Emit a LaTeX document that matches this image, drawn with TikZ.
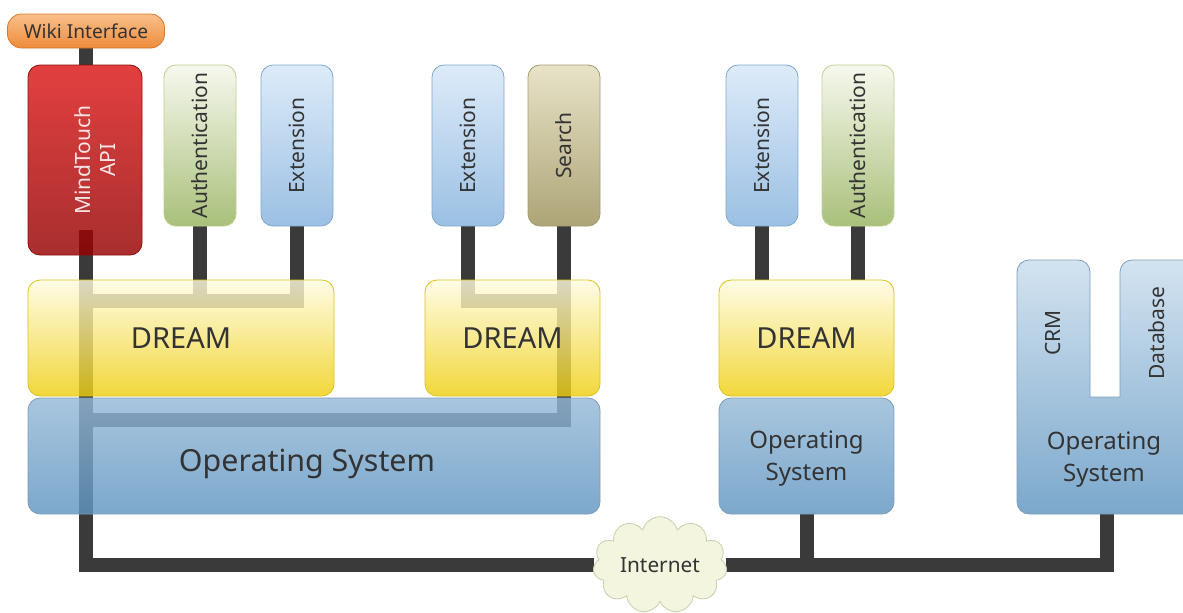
\documentclass[tikz,border=0pt]{standalone}
\usepackage{fontspec}
\setmainfont{Noto Sans}
\usetikzlibrary{shapes.symbols,backgrounds}

\definecolor{txt}{HTML}{333333}
\definecolor{wire}{HTML}{3A3A3A}
\definecolor{wikitop}{HTML}{F9C08A}
\definecolor{wikibot}{HTML}{EE8B3C}
\definecolor{wikiline}{HTML}{D9782E}
\definecolor{mttop}{HTML}{DC1515}
\definecolor{mtbot}{HTML}{960000}
\definecolor{mtline}{HTML}{900A0A}
\definecolor{authtop}{HTML}{F6F8EE}
\definecolor{authbot}{HTML}{A9C07A}
\definecolor{authline}{HTML}{BDD08E}
\definecolor{exttop}{HTML}{DDEBF9}
\definecolor{extbot}{HTML}{9BC0E3}
\definecolor{extline}{HTML}{7FA7CE}
\definecolor{srchtop}{HTML}{E8E3C8}
\definecolor{srchbot}{HTML}{ADA476}
\definecolor{srchline}{HTML}{A39B72}
\definecolor{dreamtop}{HTML}{FFFBE0}
\definecolor{dreambot}{HTML}{EECF10}
\definecolor{dreamline}{HTML}{DCC21A}
\definecolor{ostop}{HTML}{96B9D7}
\definecolor{osbot}{HTML}{5E95C1}
\definecolor{ostopo}{HTML}{A9C6DE}
\definecolor{osboto}{HTML}{7BA8CC}
\definecolor{ostopu}{HTML}{D3E3F0}
\definecolor{osline}{HTML}{7E9DBA}
\definecolor{cloudfill}{HTML}{F3F5DF}
\definecolor{cloudline}{HTML}{C9CDAD}

\tikzset{
  box/.style={rounded corners=6pt, inner sep=0pt, text=txt,
    font=\fontsize{10.5}{12.5}\selectfont},
  seethrough/.style={fill opacity=0.82, text opacity=1},
  tall/.style={box, minimum width=36pt, minimum height=80.5pt},
  extbox/.style={tall, draw=extline, top color=exttop, bottom color=extbot},
  authbox/.style={tall, draw=authline, top color=authtop, bottom color=authbot},
  srchbox/.style={tall, draw=srchline, top color=srchtop, bottom color=srchbot},
  dreambox/.style={box, seethrough, draw=dreamline, top color=dreamtop,
    bottom color=dreambot, minimum height=58pt, font=\fontsize{14.5}{17}\selectfont},
  osbox/.style={box, draw=osline, top color=ostopo, bottom color=osboto,
    minimum height=58pt, align=center, text depth=0pt,
    font=\fontsize{12}{16}\selectfont},
  wirestyle/.style={line width=7pt, draw=wire},
}

\begin{document}
\begin{tikzpicture}[x=0.5pt, y=-0.5pt]
    \useasboundingbox (0,0) rectangle (1183,612);
    \clip (0,0) rectangle (1183,612);

    % top row: plug-ins
    \node[box, draw=wikiline, top color=wikitop, bottom color=wikibot,
      rounded corners=7pt, minimum width=78.5pt, minimum height=17pt,
      font=\fontsize{9.6}{11}\selectfont] (wiki) at (86,31) {Wiki Interface};
    \node[box, seethrough, draw=mtline, top color=mttop, bottom color=mtbot,
      minimum width=57pt, minimum height=95pt] (mt) at (85,160) {};
    \node[rotate=90, align=center, text=white!90!red,
      font=\fontsize{10.5}{12.5}\selectfont] (mtlabel) at (95,160) {MindTouch\\API};
    \node[authbox] (auth1) at (200,145.5) {\rotatebox{90}{Authentication}};
    \node[extbox] (ext1) at (297,145.5) {\rotatebox{90}{Extension}};
    \node[extbox] (ext2) at (468,145.5) {\rotatebox{90}{Extension}};
    \node[srchbox] (search) at (564,145.5) {\rotatebox{90}{Search}};
    \node[extbox] (ext3) at (762,145.5) {\rotatebox{90}{Extension}};
    \node[authbox] (auth2) at (858,145.5) {\rotatebox{90}{Authentication}};

    % DREAM hosts
    \node[dreambox, minimum width=153pt] (dream1) at (181,338) {DREAM};
    \node[dreambox, minimum width=87.5pt] (dream2) at (512.5,338) {DREAM};
    \node[dreambox, minimum width=87.5pt] (dream3) at (806.5,338) {DREAM};

    % operating systems
    \node[osbox, seethrough, top color=ostop, bottom color=osbot,
      minimum width=286pt, text height=15pt, font=\fontsize{15.2}{18}\selectfont]
      (os1) at (314,456) {Operating System\hspace*{7pt}};
    \node[osbox, minimum width=87.5pt] (os2) at (806.5,456) {Operating\\System};
    \path[box, draw=osline, top color=ostopu, bottom color=osboto]
      (1017,514) -- (1017,260) -- (1090,260) [sharp corners] -- (1090,397)
      -- (1120,397) [rounded corners=6pt] -- (1120,260) -- (1200,260)
      -- (1200,514) -- cycle;
    \node[text=txt, rotate=90, font=\fontsize{10.5}{12.5}\selectfont] (crm) at (1053,333) {CRM};
    \node[text=txt, rotate=90, font=\fontsize{10.5}{12.5}\selectfont] (db) at (1157,333) {Database};
    \node[text=txt, align=center, font=\fontsize{12}{16}\selectfont] (os3) at (1104,460) {Operating\\System};
    \coordinate (os3foot) at (1107,514);

    % network
    \node[cloud, cloud puffs=11, aspect=1.5, draw=cloudline, fill=cloudfill,
      minimum width=67pt, minimum height=47pt, inner sep=0pt, text=txt,
      font=\fontsize{10.4}{12}\selectfont] (net) at (660,565) {Internet};

    % junctions
    \coordinate (m0) at (86,230);
    \coordinate (j1) at (86,301);
    \coordinate (j2) at (564,301);
    \coordinate (j3) at (86,420);

    % wires under the boxes
    \begin{pgfonlayer}{background}
    \draw[wirestyle] (wiki.south) -- (wiki.south |- mt.north);
    \draw[wirestyle] (m0) |- (net.west);
    \draw[wirestyle] (auth1.south) -- (auth1.south |- j1);
    \draw[wirestyle] (ext1.south) |- (j1);
    \draw[wirestyle] (ext2.south) |- (j2);
    \draw[wirestyle] (search.south) |- (j3);
    \draw[wirestyle] (ext3.south) -- (ext3.south |- dream3.north);
    \draw[wirestyle] (auth2.south) -- (auth2.south |- dream3.north);
    \draw[wirestyle] (os2.south) -- (os2.south |- net.east);
    \draw[wirestyle] (net.east) -| (os3foot);
    \end{pgfonlayer}
\end{tikzpicture}
\end{document}
